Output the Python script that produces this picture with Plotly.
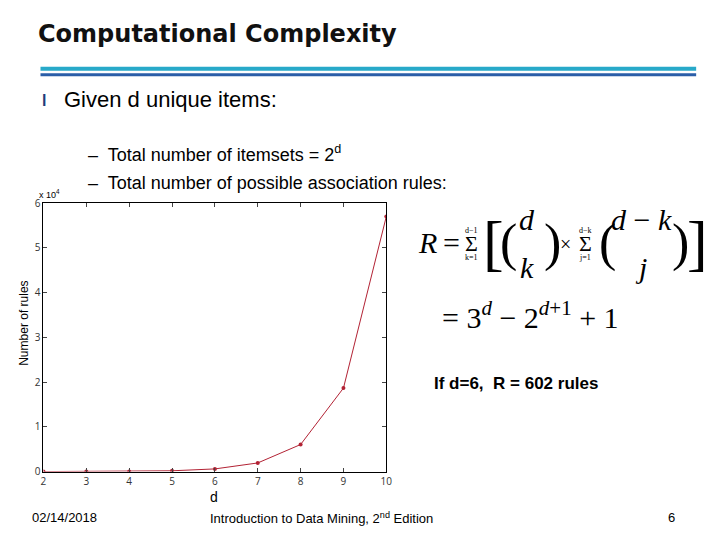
import plotly.graph_objects as go

d_values = [2, 3, 4, 5, 6, 7, 8, 9, 10]
rules = [2, 12, 50, 180, 602, 1932, 6050, 18660, 57002]
y_tick_vals = [0, 10000, 20000, 30000, 40000, 50000, 60000]
y_tick_text = ["0", "1", "2", "3", "4", "5", "6"]

W, H = 720, 540
def px(x): return ((x - 10.5) / 0.988) / W
def py(y): return 1 - ((y - 14.3) / 0.974) / H

fig = go.Figure()
fig.add_trace(go.Scatter(x=d_values, y=rules, mode="lines+markers",
                         line=dict(color="#b22234", width=1),
                         marker=dict(color="#b22234", size=4), showlegend=False))

ann = []
def T(x, y, text, size, color="black", family="Arial", xa="left", ya="middle", **kw):
    ann.append(dict(x=px(x), y=py(y), xref="paper", yref="paper", text=text, showarrow=False,
                    font=dict(size=size, color=color, family=family), xanchor=xa, yanchor=ya, **kw))

T(36, 33, "<b>Computational Complexity</b>", 24, "#111", "DejaVu Sans")
T(40, 100, "<b>l</b>", 16, "#1f3d7a")
T(62, 99, "Given d unique items:", 22)
T(86, 153, "–  Total number of itemsets = 2<sup>d</sup>", 18)
T(86, 182, "–  Total number of possible association rules:", 18)
# formula
tf = "Liberation Serif"
T(416, 241, "<i>R</i>", 30, family=tf)
T(441, 241, "=", 30, family=tf)
T(471, 229, "d−1", 8, family=tf, xa="center")
T(471, 242, "Σ", 22, family=tf, xa="center")
T(471, 256, "k=1", 8, family=tf, xa="center")
T(481, 242, "[", 62, family=tf)
T(498, 242, "(", 52, family=tf)
T(527, 218, "<i>d</i>", 30, family=tf, xa="center")
T(527, 266, "<i>k</i>", 30, family=tf, xa="center")
T(542, 242, ")", 52, family=tf)
T(565, 243, "×", 20, family=tf, xa="center")
T(585, 229, "d−k", 8, family=tf, xa="center")
T(585, 242, "Σ", 22, family=tf, xa="center")
T(585, 256, "j=1", 8, family=tf, xa="center")
T(597, 242, "(", 52, family=tf)
T(641, 218, "<i>d</i> − <i>k</i>", 30, family=tf, xa="center")
T(641, 266, "<i>j</i>", 30, family=tf, xa="center")
T(670, 242, ")", 52, family=tf)
T(685, 242, "]", 62, family=tf)
T(440, 314, "= 3<sup><i>d</i></sup> − 2<sup><i>d</i>+1</sup> + 1", 30, family=tf)
T(432, 382, "<b>If d=6,  R = 602 rules</b>", 17)
# chart labels
T(37, 193, "x 10<sup>4</sup>", 9)
T(24, 322, "Number of rules", 12, xa="center", textangle=-90)
T(214, 495, "d", 14, xa="center")
# footer
T(30, 516, "02/14/2018", 13)
T(208, 516, "Introduction to Data Mining, 2<sup>nd</sup> Edition", 13)
T(666, 516, "6", 13)

shapes = [
    dict(type="line", xref="paper", yref="paper", x0=px(40), x1=px(696), y0=py(68), y1=py(68),
         line=dict(color="#27a9c9", width=4)),
    dict(type="line", xref="paper", yref="paper", x0=px(40), x1=px(696), y0=py(74), y1=py(74),
         line=dict(color="#2b5ea8", width=3)),
]

fig.update_layout(
    width=W, height=H, margin=dict(l=0, r=0, t=0, b=0),
    paper_bgcolor="white", plot_bgcolor="white",
    annotations=ann, shapes=shapes,
    xaxis=dict(domain=[px(43), px(386)], range=[2, 10], tickvals=d_values,
               ticks="inside", ticklen=4, mirror="ticks", showline=True, linecolor="black",
               linewidth=1, showgrid=False, zeroline=False, tickfont=dict(size=10, color="#333")),
    yaxis=dict(domain=[py(470), py(202)], range=[0, 60000], tickvals=y_tick_vals, ticktext=y_tick_text,
               ticks="inside", ticklen=4, mirror="ticks", showline=True, linecolor="black",
               linewidth=1, showgrid=False, zeroline=False, tickfont=dict(size=10, color="#333")),
)
fig.write_html("out.html")
